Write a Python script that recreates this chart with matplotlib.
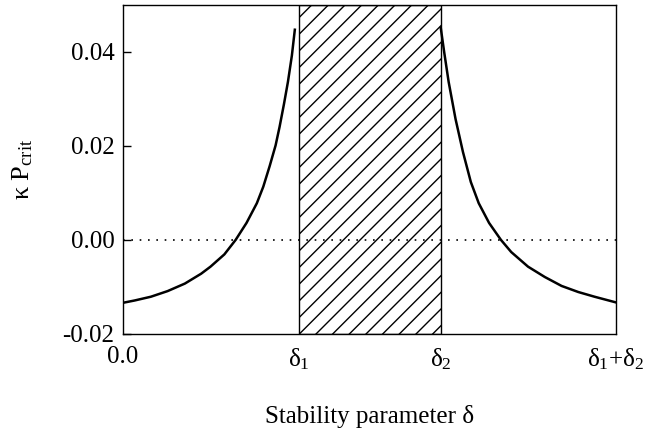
import matplotlib
matplotlib.use("Agg")
import matplotlib.pyplot as plt

plt.rcParams['font.family'] = ['Liberation Serif', 'DejaVu Serif']
plt.rcParams['mathtext.fontset'] = 'custom'
plt.rcParams['mathtext.rm'] = 'Liberation Serif'
plt.rcParams['mathtext.it'] = 'Liberation Serif:italic'
plt.rcParams['axes.unicode_minus'] = False
plt.rcParams['hatch.linewidth'] = 1.0

# positions on the delta axis (normalised so that delta1 + delta2 = 1)
delta1 = 0.357
delta2 = 0.645
delta_end = 1.0

# left branch (0 .. delta1)
left_x = [0.0, 0.024, 0.057, 0.091, 0.126, 0.159, 0.178, 0.206, 0.229, 0.251,
          0.272, 0.285, 0.298, 0.310, 0.318, 0.327, 0.335, 0.343, 0.349]
left_y = [-0.0134, -0.0129, -0.0121, -0.0109, -0.0093, -0.0072, -0.0057, -0.0031, 0.0, 0.0036,
          0.0078, 0.0113, 0.0157, 0.0201, 0.0240, 0.0289, 0.0336, 0.0392, 0.0447]

# right branch (delta2 .. delta1+delta2)
right_x = [0.645, 0.652, 0.661, 0.675, 0.690, 0.706, 0.722, 0.743, 0.767, 0.788,
           0.822, 0.856, 0.890, 0.924, 0.957, 1.0]
right_y = [0.0451, 0.0399, 0.0336, 0.0257, 0.0187, 0.0123, 0.0078, 0.0036, 0.0, -0.0026,
           -0.0057, -0.0079, -0.0098, -0.0111, -0.0121, -0.0133]

xtick_pos = [0.0, delta1, delta2, delta_end]
xtick_labels = ['0.0', 'δ$_1$', 'δ$_2$', 'δ$_1$+δ$_2$']
ytick_pos = [-0.02, 0.0, 0.02, 0.04]

fig = plt.figure(figsize=(6.53, 4.37), dpi=100)
ax = fig.add_axes([0.188, 0.236, 0.755, 0.753])

ax.axvspan(delta1, delta2, facecolor='white', edgecolor='black', hatch='//', linewidth=1.0, zorder=1)
ax.axhline(0, color='black', linewidth=1.2, linestyle=(0, (1, 4)), zorder=2)

ax.plot(left_x, left_y, color='black', linewidth=1.8, zorder=3)
ax.plot(right_x, right_y, color='black', linewidth=1.8, zorder=3)

ax.set_xlim(0, delta_end)
ax.set_ylim(-0.02, 0.05)
ax.set_xticks(xtick_pos)
ax.set_xticklabels(xtick_labels)
ax.set_yticks(ytick_pos)
ax.set_yticklabels([f'{v:.2f}' for v in ytick_pos])
ax.tick_params(axis='y', direction='in', length=6, width=1, labelsize=18, pad=6)
ax.tick_params(axis='x', length=0, labelsize=18, pad=9)
for s in ax.spines.values():
    s.set_linewidth(1.0)

ax.set_xlabel('Stability parameter δ', fontsize=18, labelpad=24)
ax.set_ylabel('κ P$_{\\mathrm{crit}}$', fontsize=19, labelpad=20)

fig.savefig('out.png', dpi=100)
